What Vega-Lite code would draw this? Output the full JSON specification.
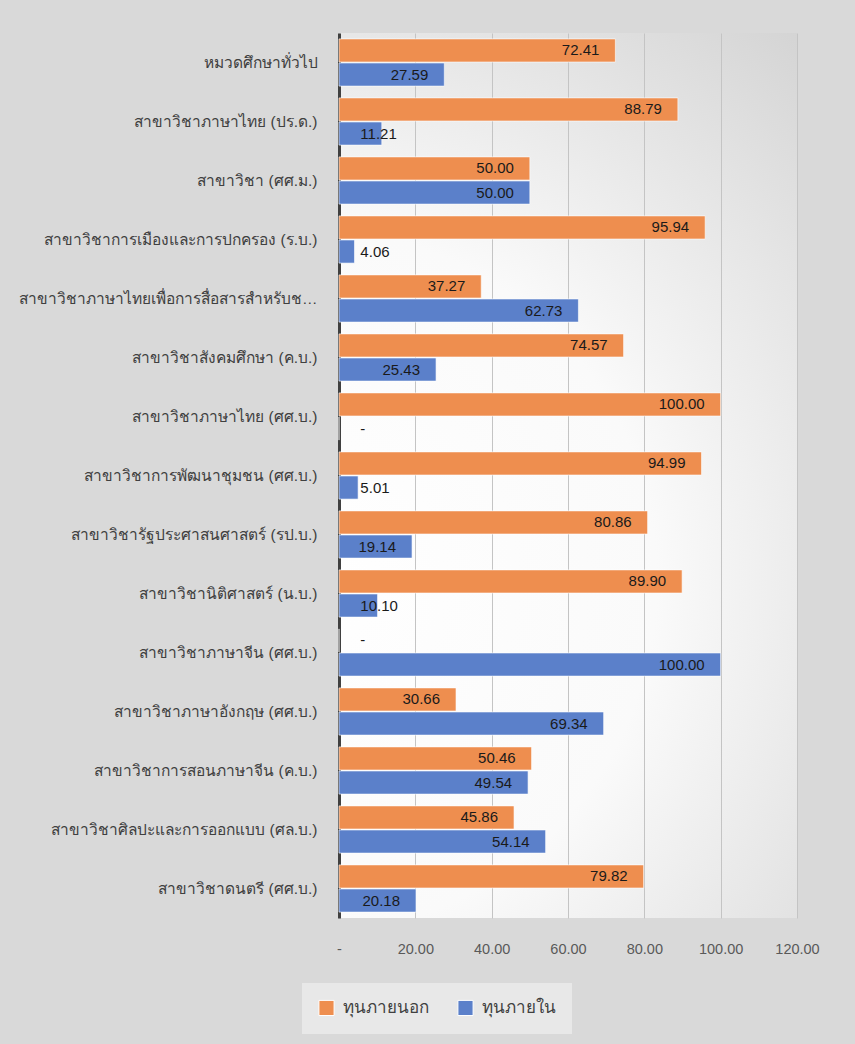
{
  "$schema": "https://vega.github.io/schema/vega-lite/v6.json",
  "autosize": "none",
  "width": 458,
  "height": 885,
  "padding": {"left": 339, "top": 33, "right": 58, "bottom": 126},
  "background": "#d9d9d9",
  "view": {
    "stroke": null,
    "fill": {
      "gradient": "radial",
      "x1": 0.2, "y1": 0.62, "x2": 0.2, "y2": 0.62, "r1": 0, "r2": 1,
      "stops": [
        {"offset": 0, "color": "#ffffff"},
        {"offset": 0.4, "color": "#fafafa"},
        {"offset": 1, "color": "#c6c6c6"}
      ]
    }
  },
  "config": {
    "font": "Liberation Sans, Arial, sans-serif"
  },
  "data": {
    "values": [
      {"category": "หมวดศึกษาทั่วไป", "series": "ทุนภายนอก", "value": 72.41},
      {"category": "หมวดศึกษาทั่วไป", "series": "ทุนภายใน", "value": 27.59},
      {"category": "สาขาวิชาภาษาไทย (ปร.ด.)", "series": "ทุนภายนอก", "value": 88.79},
      {"category": "สาขาวิชาภาษาไทย (ปร.ด.)", "series": "ทุนภายใน", "value": 11.21},
      {"category": "สาขาวิชา (ศศ.ม.)", "series": "ทุนภายนอก", "value": 50.00},
      {"category": "สาขาวิชา (ศศ.ม.)", "series": "ทุนภายใน", "value": 50.00},
      {"category": "สาขาวิชาการเมืองและการปกครอง (ร.บ.)", "series": "ทุนภายนอก", "value": 95.94},
      {"category": "สาขาวิชาการเมืองและการปกครอง (ร.บ.)", "series": "ทุนภายใน", "value": 4.06},
      {"category": "สาขาวิชาภาษาไทยเพื่อการสื่อสารสำหรับชาวต่างประเทศ", "series": "ทุนภายนอก", "value": 37.27},
      {"category": "สาขาวิชาภาษาไทยเพื่อการสื่อสารสำหรับชาวต่างประเทศ", "series": "ทุนภายใน", "value": 62.73},
      {"category": "สาขาวิชาสังคมศึกษา (ค.บ.)", "series": "ทุนภายนอก", "value": 74.57},
      {"category": "สาขาวิชาสังคมศึกษา (ค.บ.)", "series": "ทุนภายใน", "value": 25.43},
      {"category": "สาขาวิชาภาษาไทย (ศศ.บ.)", "series": "ทุนภายนอก", "value": 100.00},
      {"category": "สาขาวิชาภาษาไทย (ศศ.บ.)", "series": "ทุนภายใน", "value": 0},
      {"category": "สาขาวิชาการพัฒนาชุมชน (ศศ.บ.)", "series": "ทุนภายนอก", "value": 94.99},
      {"category": "สาขาวิชาการพัฒนาชุมชน (ศศ.บ.)", "series": "ทุนภายใน", "value": 5.01},
      {"category": "สาขาวิชารัฐประศาสนศาสตร์ (รป.บ.)", "series": "ทุนภายนอก", "value": 80.86},
      {"category": "สาขาวิชารัฐประศาสนศาสตร์ (รป.บ.)", "series": "ทุนภายใน", "value": 19.14},
      {"category": "สาขาวิชานิติศาสตร์ (น.บ.)", "series": "ทุนภายนอก", "value": 89.90},
      {"category": "สาขาวิชานิติศาสตร์ (น.บ.)", "series": "ทุนภายใน", "value": 10.10},
      {"category": "สาขาวิชาภาษาจีน (ศศ.บ.)", "series": "ทุนภายนอก", "value": 0},
      {"category": "สาขาวิชาภาษาจีน (ศศ.บ.)", "series": "ทุนภายใน", "value": 100.00},
      {"category": "สาขาวิชาภาษาอังกฤษ (ศศ.บ.)", "series": "ทุนภายนอก", "value": 30.66},
      {"category": "สาขาวิชาภาษาอังกฤษ (ศศ.บ.)", "series": "ทุนภายใน", "value": 69.34},
      {"category": "สาขาวิชาการสอนภาษาจีน (ค.บ.)", "series": "ทุนภายนอก", "value": 50.46},
      {"category": "สาขาวิชาการสอนภาษาจีน (ค.บ.)", "series": "ทุนภายใน", "value": 49.54},
      {"category": "สาขาวิชาศิลปะและการออกแบบ (ศล.บ.)", "series": "ทุนภายนอก", "value": 45.86},
      {"category": "สาขาวิชาศิลปะและการออกแบบ (ศล.บ.)", "series": "ทุนภายใน", "value": 54.14},
      {"category": "สาขาวิชาดนตรี (ศศ.บ.)", "series": "ทุนภายนอก", "value": 79.82},
      {"category": "สาขาวิชาดนตรี (ศศ.บ.)", "series": "ทุนภายใน", "value": 20.18}
    ]
  },
  "encoding": {
    "y": {
      "field": "category",
      "type": "nominal",
      "sort": null,
      "scale": {"paddingInner": 0.2, "paddingOuter": 0.1},
      "axis": {
        "title": null,
        "domain": true,
        "domainColor": "#404040",
        "domainWidth": 3,
        "ticks": false,
        "labelPadding": 22,
        "labelFontSize": 15.5,
        "labelColor": "#404040",
        "labelLimit": 300
      }
    },
    "yOffset": {
      "field": "series",
      "type": "nominal",
      "sort": ["ทุนภายนอก", "ทุนภายใน"],
      "scale": {"domain": ["ทุนภายนอก", "ทุนภายใน"], "paddingInner": 0.04}
    }
  },
  "layer": [
    {
      "mark": {"type": "bar", "stroke": "#ffffff", "strokeOpacity": 0.6, "strokeWidth": 1},
      "encoding": {
        "x": {
          "field": "value",
          "type": "quantitative",
          "scale": {"domain": [0, 120], "nice": false, "zero": true},
          "axis": {
            "title": null,
            "values": [0, 20, 40, 60, 80, 100, 120],
            "labelExpr": "datum.value === 0 ? '-' : format(datum.value, '.2f')",
            "labelFlush": false,
            "labelOverlap": false,
            "domain": false,
            "ticks": false,
            "grid": true,
            "gridColor": "#c4c4c4",
            "gridWidth": 1,
            "labelPadding": 24,
            "labelFontSize": 14.5,
            "labelColor": "#595959"
          }
        },
        "color": {
          "field": "series",
          "type": "nominal",
          "scale": {"domain": ["ทุนภายนอก", "ทุนภายใน"], "range": ["#EE8E4F", "#5B80CA"]},
          "legend": {
            "title": null,
            "orient": "none",
            "direction": "horizontal",
            "legendX": -37,
            "legendY": 950,
            "padding": 16,
            "fillColor": "#e8e8e8",
            "symbolType": "square",
            "symbolSize": 230,
            "symbolStrokeColor": "#ffffff",
            "symbolStrokeWidth": 1,
            "symbolOpacity": 1,
            "labelFontSize": 17,
            "labelColor": "#404040",
            "labelOffset": 8,
            "columnPadding": 26
          }
        }
      }
    },
    {
      "transform": [{"filter": "datum.value >= 15"}],
      "mark": {"type": "text", "align": "right", "baseline": "middle", "dx": -16, "fontSize": 15, "color": "#1a1a1a"},
      "encoding": {
        "x": {"field": "value", "type": "quantitative"},
        "text": {"field": "value", "type": "quantitative", "format": ".2f"}
      }
    },
    {
      "transform": [{"filter": "datum.value < 15"}],
      "mark": {"type": "text", "align": "left", "baseline": "middle", "fontSize": 15, "color": "#1a1a1a"},
      "encoding": {
        "x": {"datum": 5.6, "type": "quantitative"},
        "text": {
          "condition": {"test": "datum.value === 0", "value": "-"},
          "field": "value", "type": "quantitative", "format": ".2f"
        }
      }
    }
  ]
}
